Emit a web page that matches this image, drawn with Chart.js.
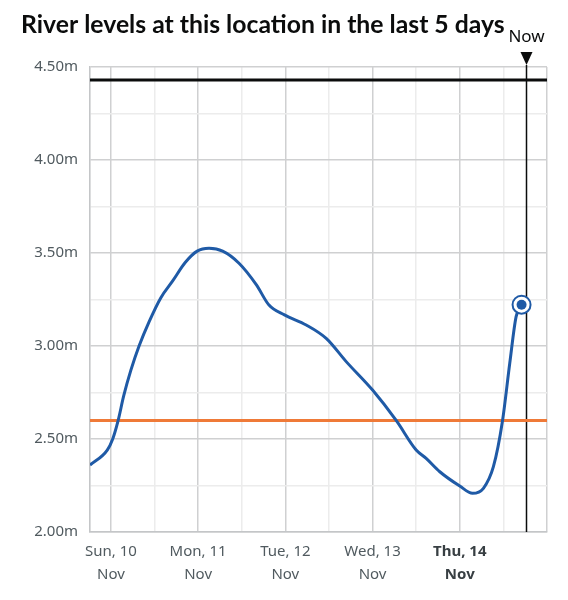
<!DOCTYPE html>
<html><head><meta charset="utf-8">
<script src="https://cdn.jsdelivr.net/npm/chart.js@4/dist/chart.umd.min.js"></script>
<style>html,body{margin:0;padding:0;background:#fff}#wrap{width:568px;height:600px;position:relative}</style>
</head><body><div id="wrap"><canvas id="c" width="568" height="600"></canvas></div>
<script>
// ---- data (hours from Sun 10 Nov 00:00) ----
const titleText = 'River levels at this location in the last 5 days';
const hours = [-5.75, -1, 0.5, 2, 3.5, 5.5, 7.75, 10.5, 13.75, 17, 20.5, 23.75, 27, 30.75, 35.25, 40, 43.5, 47.75, 53.75, 59.25, 64.75, 72, 78.5, 84, 86.75, 90.5, 96, 99.5, 102.5, 105.25, 107.75, 109.75, 111.5, 113];
const levels = [2.36, 2.44, 2.50, 2.60, 2.73, 2.87, 3.00, 3.13, 3.26, 3.35, 3.45, 3.51, 3.525, 3.51, 3.445, 3.33, 3.22, 3.167, 3.113, 3.041, 2.916, 2.763, 2.60, 2.441, 2.396, 2.324, 2.247, 2.208, 2.235, 2.351, 2.597, 2.907, 3.158, 3.222];
const xTickHours = [-5.75, 0, 12, 24, 36, 48, 60, 72, 84, 96, 108, 120];
const dayTickHours = [0, 24, 48, 72, 96];
const dayLabels = [['Sun, 10', 'Nov'], ['Mon, 11', 'Nov'], ['Tue, 12', 'Nov'], ['Wed, 13', 'Nov'], ['Thu, 14', 'Nov']];
const todayHour = 96;
const yTickValues = [2.0, 2.25, 2.5, 2.75, 3.0, 3.25, 3.5, 3.75, 4.0, 4.25, 4.5];
const highestLevel = 4.43;
const normalTop = 2.6;
const nowHour = 114.25;
const xMin = -5.75, xMax = 120, yMin = 2.0, yMax = 4.5;

const BLUE = '#1f5aa6', ORANGE = '#ef7a38', BLACK = '#0b0c0c';
const FONT = '"Noto Sans", sans-serif';
const TITLE_FONT = 'Lato, "Noto Sans", sans-serif';

const pts = hours.map((h, i) => ({x: h, y: levels[i]}));
const last = pts[pts.length - 1];

const overlay = {
  id: 'overlay',
  beforeDatasetsDraw(chart) {
    const {ctx, chartArea: a, scales: {x}} = chart;
    const nx = Math.round(x.getPixelForValue(nowHour)) + 0.5;
    ctx.save();
    ctx.strokeStyle = BLACK; ctx.lineWidth = 1.5;
    ctx.beginPath(); ctx.moveTo(nx, a.top - 2); ctx.lineTo(nx, a.bottom); ctx.stroke();
    ctx.restore();
  },
  afterDraw(chart) {
    const {ctx, chartArea: a, scales: {x}} = chart;
    const nx = Math.round(x.getPixelForValue(nowHour)) + 0.5;
    ctx.save();
    // title
    let size = 25;
    ctx.font = 'bold ' + size + 'px ' + TITLE_FONT;
    while (ctx.measureText(titleText).width > 485 && size > 12) { size -= 0.25; ctx.font = 'bold ' + size + 'px ' + TITLE_FONT; }
    ctx.fillStyle = BLACK; ctx.textBaseline = 'alphabetic'; ctx.textAlign = 'left';
    ctx.fillText(titleText, 21, 33);
    // now marker
    ctx.beginPath();
    ctx.moveTo(nx - 6, a.top - 15); ctx.lineTo(nx + 6, a.top - 15); ctx.lineTo(nx, a.top - 2); ctx.closePath();
    ctx.fill();
    ctx.font = '17px ' + FONT; ctx.textAlign = 'center';
    ctx.fillText('Now', nx, 42);
    ctx.restore();
  }
};

new Chart(document.getElementById('c'), {
  type: 'line',
  data: {
    datasets: [
      {label: 'Latest dot', data: [last], showLine: false, pointRadius: 5, pointHoverRadius: 5, backgroundColor: BLUE, borderWidth: 0},
      {label: 'Latest ring', data: [last], showLine: false, pointRadius: 9, pointHoverRadius: 9, backgroundColor: '#fff', borderColor: BLUE, borderWidth: 2},
      {label: 'River level', data: pts, borderColor: BLUE, borderWidth: 3, pointRadius: 0, cubicInterpolationMode: 'monotone', fill: false},
      {label: 'Top of normal range', data: [{x: xMin, y: normalTop}, {x: xMax, y: normalTop}], borderColor: ORANGE, borderWidth: 3, pointRadius: 0},
      {label: 'Highest level', data: [{x: xMin, y: highestLevel}, {x: xMax, y: highestLevel}], borderColor: BLACK, borderWidth: 3, pointRadius: 0}
    ]
  },
  options: {
    responsive: false, animation: false,
    layout: {padding: {top: 67, right: 21, left: 0, bottom: 0}},
    plugins: {legend: {display: false}, tooltip: {enabled: false}, title: {display: false}},
    scales: {
      x: {
        type: 'linear', min: xMin, max: xMax,
        afterBuildTicks: s => { s.ticks = xTickHours.map(v => ({value: v})); },
        afterFit: s => { s.height = 68; },
        border: {color: '#c4c6c8', width: 1.5},
        grid: {
          drawTicks: false,
          color: c => (c.tick && c.tick.value % 24 === 0) ? '#cfd0d1' : '#ececec',
          lineWidth: 1.5
        },
        ticks: {
          autoSkip: false, maxRotation: 0, padding: 8,
          color: c => (c.tick && c.tick.value === todayHour) ? '#383f43' : '#505a5f',
          font: c => ({family: FONT, size: 15, weight: (c.tick && c.tick.value === todayHour) ? 'bold' : 'normal', lineHeight: 1.55}),
          callback: v => { const i = dayTickHours.indexOf(v); return i >= 0 ? dayLabels[i] : ''; }
        }
      },
      y: {
        min: yMin, max: yMax,
        afterBuildTicks: s => { s.ticks = yTickValues.map(v => ({value: v})); },
        afterFit: s => { s.width = 90; },
        border: {color: '#c4c6c8', width: 1.5},
        grid: {
          drawTicks: false,
          color: c => (c.tick && Math.abs(c.tick.value * 2 - Math.round(c.tick.value * 2)) < 1e-6) ? '#cfd0d1' : '#ececec',
          lineWidth: 1.5
        },
        ticks: {
          padding: 12, color: '#505a5f', font: {family: FONT, size: 15},
          callback: v => (Math.abs(v * 2 - Math.round(v * 2)) < 1e-6) ? v.toFixed(2) + 'm' : ''
        }
      }
    }
  },
  plugins: [overlay]
});
</script></body></html>
